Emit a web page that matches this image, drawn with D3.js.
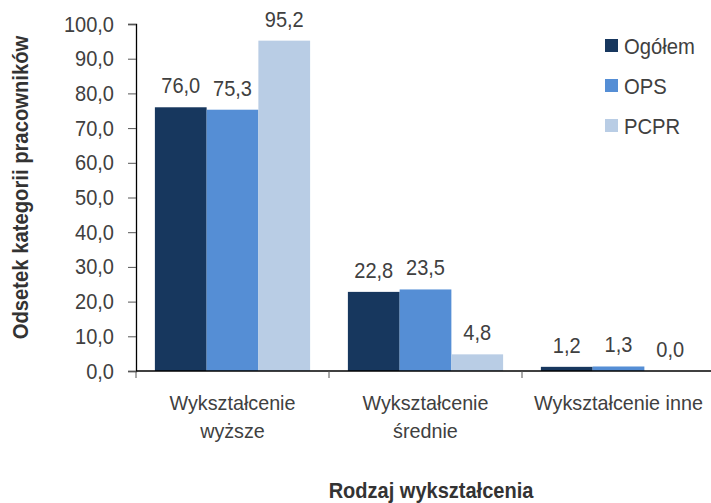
<!DOCTYPE html>
<html>
<head>
<meta charset="utf-8">
<script src="https://cdn.jsdelivr.net/npm/d3@7"></script>
<style>
  html, body { margin: 0; padding: 0; background: #fff; }
  svg text { font-family: "Liberation Sans Narrow", "Arial Narrow", "Liberation Sans", Arial, sans-serif; }
</style>
</head>
<body>
<svg id="chart" width="711" height="503"></svg>
<script>
// Education levels (two-line labels split with "\n")
const categories = ["Wykształcenie\nwyższe", "Wykształcenie\nśrednie", "Wykształcenie inne"];
const seriesNames = ["Ogółem", "OPS", "PCPR"];
const ogolem = [76.0, 22.8, 1.2];
const ops = [75.3, 23.5, 1.3];
const pcpr = [95.2, 4.8, 0.0];
const yTicks = [0, 10, 20, 30, 40, 50, 60, 70, 80, 90, 100];
const colors = ["#17375E", "#558ED5", "#B9CDE5"];

const seriesValues = [ogolem, ops, pcpr];
const fmt = v => v.toFixed(1).replace(".", ",");

// Condense glyphs horizontally (narrow typeface look)
const SQUEEZE = 0.91;
function condense(sel, f = SQUEEZE) {
  sel.each(function () {
    const len = this.getComputedTextLength();
    if (len > 0) {
      d3.select(this)
        .attr("textLength", len * f)
        .attr("lengthAdjust", "spacingAndGlyphs");
    }
  });
}

const svg = d3.select("#chart");
const margin = { left: 136, top: 24, right: -4, bottom: 132 };
const W = 711, H = 503;

const x0 = d3.scaleBand()
  .domain(categories)
  .range([margin.left, W - margin.right])
  .paddingInner(0)
  .paddingOuter(0);

const x1 = d3.scaleBand()
  .domain(seriesNames)
  .range([0, x0.bandwidth()])
  .paddingOuter(0.365)
  .paddingInner(0);

const y = d3.scaleLinear()
  .domain([0, 100])
  .range([H - margin.bottom, margin.top]);

const textColor = "#404040";

// Bars
const groups = svg.append("g").selectAll("g")
  .data(categories)
  .join("g")
  .attr("transform", d => `translate(${x0(d)},0)`);

groups.selectAll("rect")
  .data((c, i) => seriesNames.map((s, j) => ({ s, j, v: seriesValues[j][i] })))
  .join("rect")
  .attr("x", d => x1(d.s))
  .attr("width", x1.bandwidth())
  .attr("y", d => y(d.v))
  .attr("height", d => y(0) - y(d.v))
  .attr("fill", d => colors[d.j]);

// Value labels
const valLabels = groups.selectAll("text.val")
  .data((c, i) => seriesNames.map((s, j) => ({ s, j, v: seriesValues[j][i] })))
  .join("text")
  .attr("class", "val")
  .attr("x", d => x1(d.s) + x1.bandwidth() / 2)
  .attr("y", d => y(d.v) - 14)
  .attr("text-anchor", "middle")
  .attr("font-size", 22)
  .attr("fill", textColor)
  .text(d => fmt(d.v));
condense(valLabels);

// Y axis
const yAxis = svg.append("g")
  .attr("transform", `translate(${margin.left},0)`)
  .call(d3.axisLeft(y).tickValues(yTicks).tickFormat(fmt).tickSize(8).tickPadding(14));
yAxis.select(".domain").attr("stroke", "#000").attr("stroke-width", 1.3);
yAxis.selectAll(".tick line").attr("stroke", "#555");
yAxis.selectAll(".tick text").attr("font-size", 22).attr("fill", textColor).attr("font-family", null);
condense(yAxis.selectAll(".tick text"));

// X axis: line with ticks at category boundaries
const xAxisG = svg.append("g");
xAxisG.append("line")
  .attr("x1", margin.left).attr("x2", W)
  .attr("y1", y(0)).attr("y2", y(0))
  .attr("stroke", "#000").attr("stroke-width", 1.3);
xAxisG.selectAll("line.tick")
  .data(categories)
  .join("line")
  .attr("class", "tick")
  .attr("x1", d => x0(d)).attr("x2", d => x0(d))
  .attr("y1", y(0)).attr("y2", y(0) + 7)
  .attr("stroke", "#555");

// Category labels
const catLabels = svg.append("g").selectAll("text")
  .data(categories)
  .join("text")
  .attr("x", d => x0(d) + x0.bandwidth() / 2)
  .attr("y", 410)
  .attr("text-anchor", "middle")
  .attr("font-size", 21)
  .attr("fill", textColor);
catLabels.selectAll("tspan")
  .data(d => d.split("\n"))
  .join("tspan")
  .attr("x", function () { return d3.select(this.parentNode).attr("x"); })
  .attr("dy", (d, i) => i === 0 ? 0 : 28)
  .text(d => d);
condense(catLabels.selectAll("tspan"), 0.94);

// Axis titles
const yTitle = svg.append("text")
  .attr("transform", `translate(28,${(y(0) + y(100)) / 2 - 10}) rotate(-90)`)
  .attr("text-anchor", "middle")
  .attr("font-size", 22)
  .attr("font-weight", "bold")
  .attr("fill", "#333")
  .text("Odsetek kategorii pracowników");
condense(yTitle, 0.92);

const xTitle = svg.append("text")
  .attr("x", 431)
  .attr("y", 498)
  .attr("text-anchor", "middle")
  .attr("font-size", 22)
  .attr("font-weight", "bold")
  .attr("fill", "#333")
  .text("Rodzaj wykształcenia");
condense(xTitle);

// Legend
const legend = svg.append("g").attr("transform", "translate(605,39)");
const li = legend.selectAll("g")
  .data(seriesNames)
  .join("g")
  .attr("transform", (d, i) => `translate(0,${i * 40})`);
li.append("rect")
  .attr("width", 13).attr("height", 13)
  .attr("fill", (d, i) => colors[i]);
const legText = li.append("text")
  .attr("x", 19).attr("y", 15)
  .attr("font-size", 22)
  .attr("fill", textColor)
  .text(d => d);
condense(legText, 0.92);
</script>
</body>
</html>
